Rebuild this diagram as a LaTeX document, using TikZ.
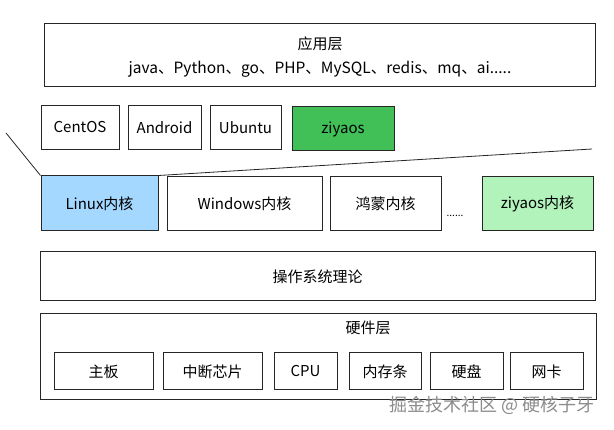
\documentclass[tikz,border=0pt]{standalone}
\usepackage{fontspec}
\setmainfont{Noto Sans CJK SC}
\definecolor{osgreen}{HTML}{40C057}
\definecolor{linuxblue}{HTML}{A5D8FF}
\definecolor{kgreen}{HTML}{B2F2BB}
\begin{document}
\begin{tikzpicture}[x=1pt,y=-1pt,
  box/.style={draw=black!85, line width=1pt, inner sep=0pt, font=\fontsize{15}{17}\selectfont},
  txt/.style={inner sep=0pt, font=\fontsize{15}{17}\selectfont},
  conn/.style={draw=black!85, line width=0.8pt}]
\useasboundingbox (0,0) rectangle (614,430);
\fill[white] (0,0) rectangle (614,430);
% application layer
\node[box, minimum width=551, minimum height=63] (app) at (319.5,55.5) {};
\node[txt] (apptitle) at (320,44) {应用层};
\node[txt, font=\fontsize{15.5}{17}\selectfont] (applist) at (320,69) {java、Python、go、PHP、MySQL、redis、mq、ai.....};
% distributions
\node[box, minimum width=78, minimum height=44] (centos) at (80,127.5) {CentOS};
\node[box, minimum width=73, minimum height=44] (android) at (164.5,127.5) {Android};
\node[box, minimum width=71, minimum height=44] (ubuntu) at (245.5,128) {Ubuntu};
\node[box, fill=osgreen, minimum width=102, minimum height=44] (ziyaos) at (343,129) {ziyaos};
% kernels
\node[box, fill=linuxblue, minimum width=117, minimum height=55] (linux) at (99.5,203.5) {Linux内核};
\node[box, minimum width=155, minimum height=54] (windows) at (244.5,204) {Windows内核};
\node[box, minimum width=111, minimum height=54] (hongmeng) at (385.5,204) {鸿蒙内核};
\node[txt, font=\fontsize{10}{11}\selectfont] (dots) at (455,216) {......};
\node[box, fill=kgreen, minimum width=111, minimum height=54] (zkernel) at (537.5,204) {ziyaos内核};
\coordinate (lt) at (6,133);
\coordinate (rt) at (592,149);
\draw[conn] (lt) -- (linux.north west);
\draw[conn] (linux.north east) -- (rt);
% OS theory
\node[box, minimum width=555, minimum height=49] (theory) at (317.5,276.5) {操作系统理论};
% hardware layer
\node[box, minimum width=556, minimum height=86] (hw) at (318,357) {};
\node[txt] (hwtitle) at (368,328) {硬件层};
\node[box, minimum width=99, minimum height=37] (mb) at (103.5,371.5) {主板};
\node[box, minimum width=99, minimum height=37] (irq) at (212.5,371.5) {中断芯片};
\node[box, minimum width=63, minimum height=37] (cpu) at (305.5,371.5) {CPU};
\node[box, minimum width=72, minimum height=37] (mem) at (385,371.5) {内存条};
\node[box, minimum width=73, minimum height=37] (disk) at (466.5,371.5) {硬盘};
\node[box, minimum width=73, minimum height=37] (nic) at (546.5,371.5) {网卡};
% watermark
\node[txt, font=\fontsize{18}{20}\selectfont, text=black!45] (wm) at (492,405) {掘金技术社区 @ 硬核子牙};
\end{tikzpicture}
\end{document}
